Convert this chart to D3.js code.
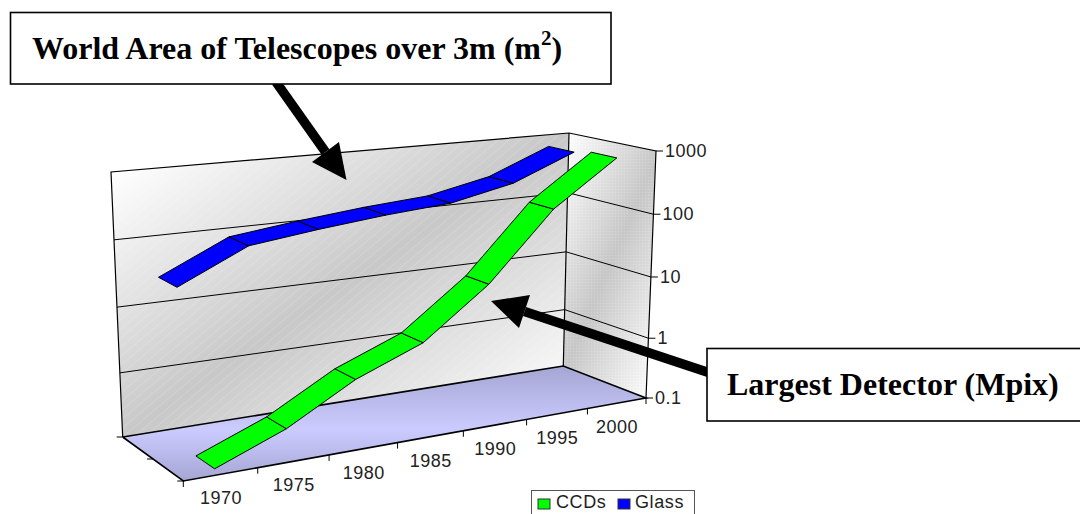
<!DOCTYPE html>
<html>
<head>
<meta charset="utf-8">
<script src="https://cdn.jsdelivr.net/npm/d3@7"></script>
<style>
  html, body { margin: 0; padding: 0; background: #fff; overflow: hidden; }
  svg { display: block; }
</style>
</head>
<body>
<svg id="chart" width="1080" height="514"></svg>
<script>
const years = ["1970", "1975", "1980", "1985", "1990", "1995", "2000"];
const seriesNames = ["CCDs", "Glass"];
const ccdValues = [0.104, 0.27, 1.03, 2.6, 15, 164, 813];
const glassValues = [27, 83, 112, 143, 171, 279, 708];
const valueTicks = [0.1, 1, 10, 100, 1000];
const seriesColors = ["#00ff00", "#0000ff"];

const svg = d3.select("#chart");

// corners of the 3d box as they land on the page
const frontLeft = [183.3, 481];
const frontRight = [646, 398];
const backLeft = [122.7, 437];
const backRight = [563.3, 366];
const frontLeftTop = [170, 200];
const frontRightTop = [656, 151];
const backLeftTop = [111, 172];
const backRightTop = [569, 133];

const xBand = d3.scaleBand().domain(years).range([0, 1]);
const depthBand = d3.scaleBand().domain(seriesNames).range([0, 1]).paddingInner(0.4).paddingOuter(0.2);
const yScale = d3.scaleLog().domain(valueTicks).range([0, 0.242, 0.49, 0.744, 1]);

const mix = (a, b, k) => [a[0] + (b[0] - a[0]) * k, a[1] + (b[1] - a[1]) * k];

// u along the years, v up the value axis, w from front to back
function project(u, v, w) {
  const t = (1.15 * u) / (1 + 0.15 * u);
  const bottom = mix(mix(frontLeft, frontRight, t), mix(backLeft, backRight, t), w);
  const top = mix(mix(frontLeftTop, frontRightTop, t), mix(backLeftTop, backRightTop, t), w);
  return mix(bottom, top, v);
}

const defs = svg.append("defs");

function addGradient(id, p1, p2, stops) {
  const g = defs
    .append("linearGradient")
    .attr("id", id)
    .attr("gradientUnits", "userSpaceOnUse")
    .attr("x1", p1[0])
    .attr("y1", p1[1])
    .attr("x2", p2[0])
    .attr("y2", p2[1]);
  stops.forEach(([o, c]) => g.append("stop").attr("offset", o).attr("stop-color", c));
}
addGradient("backWall", [218, 99], [472, 471], [[0, "#ffffff"], [0.5, "#c8c8c8"], [1, "#ffffff"]]);
addGradient("sideWall", [527, 229], [693, 301], [[0, "#ffffff"], [0.5, "#c8c8c8"], [1, "#ffffff"]]);
addGradient("floor", [400, 366], [400, 481], [[0, "#a6a6d4"], [0.55, "#cbcbff"], [1, "#a6a6d4"]]);

defs
  .append("pattern")
  .attr("id", "stripes")
  .attr("width", 7)
  .attr("height", 7)
  .attr("patternUnits", "userSpaceOnUse")
  .attr("patternTransform", "rotate(-40)")
  .append("rect")
  .attr("width", 7)
  .attr("height", 1)
  .attr("fill", "#fff")
  .attr("fill-opacity", 0.14);

const dots = defs
  .append("pattern")
  .attr("id", "dots")
  .attr("width", 3)
  .attr("height", 3)
  .attr("patternUnits", "userSpaceOnUse");
dots.append("rect").attr("width", 1).attr("height", 1).attr("fill", "#fff").attr("fill-opacity", 0.18);
dots.append("rect").attr("x", 1.5).attr("y", 1.5).attr("width", 1).attr("height", 1).attr("fill", "#888").attr("fill-opacity", 0.1);

const line = d3.line();
const box = svg.append("g");

function face(points, fill) {
  box.append("path").attr("d", line(points) + "Z").attr("fill", fill);
}
const stroke = (points, width) =>
  box
    .append("path")
    .attr("d", line(points))
    .attr("fill", "none")
    .attr("stroke", "#000")
    .attr("stroke-width", width);

const backFace = [backLeftTop, backRightTop, backRight, backLeft];
const sideFace = [backRightTop, frontRightTop, frontRight, backRight];
face([backLeft, backRight, frontRight, frontLeft], "url(#floor)");
face(backFace, "url(#backWall)");
face(backFace, "url(#stripes)");
face(sideFace, "url(#sideWall)");
face(sideFace, "url(#dots)");

// gridlines run along the back wall then forward along the side wall
valueTicks.slice(1, -1).forEach((d) => {
  const v = yScale(d);
  stroke([project(0, v, 1), project(1, v, 1), project(1, v, 0)], 1);
});

stroke([backLeft, backLeftTop, backRightTop, frontRightTop, frontRight], 1.2);
stroke([backRightTop, backRight], 1.2);
stroke([backLeft, backRight, frontRight, frontLeft, backLeft], 1.6);

// ticks on the year axis, between categories
d3.range(years.length + 1).forEach((i) => {
  const p = project(i / years.length, 0, 0);
  stroke([p, [p[0], p[1] + 6]], 1);
});
// ticks on the depth axis
[0, 0.5, 1].forEach((w) => {
  const p = project(0, 0, w);
  stroke([[p[0] - 6, p[1]], p], 1);
});
// ticks and labels on the value axis
valueTicks.forEach((d) => {
  const p = project(1, yScale(d), 0);
  stroke([p, [p[0] + 7, p[1]]], 1);
  svg
    .append("text")
    .attr("x", p[0] + 9)
    .attr("y", p[1] + 6)
    .attr("font-family", "Liberation Sans")
    .attr("font-size", 18)
    .attr("letter-spacing", 0.5)
    .attr("fill", "#222")
    .text(d);
});

years.forEach((y) => {
  const p = project(xBand(y) + xBand.bandwidth() / 2, 0, 0);
  svg
    .append("text")
    .attr("x", p[0])
    .attr("y", p[1] + 30)
    .attr("text-anchor", "middle")
    .attr("font-family", "Liberation Sans")
    .attr("font-size", 18)
    .attr("letter-spacing", 0.5)
    .attr("fill", "#222")
    .text(y);
});

// ribbons, back series first so the front one overlaps it
function ribbon(name, values, color) {
  const w0 = depthBand(name);
  const w1 = w0 + depthBand.bandwidth();
  const g = svg.append("g");
  d3.pairs(years.map((y, i) => [y, values[i]])).forEach(([a, b]) => {
    const ua = xBand(a[0]) + xBand.bandwidth() / 2;
    const ub = xBand(b[0]) + xBand.bandwidth() / 2;
    const pts = [
      project(ua, yScale(a[1]), w1),
      project(ub, yScale(b[1]), w1),
      project(ub, yScale(b[1]), w0),
      project(ua, yScale(a[1]), w0),
    ];
    g.append("path")
      .attr("d", line(pts) + "Z")
      .attr("fill", color)
      .attr("stroke", "#000")
      .attr("stroke-width", 1)
      .attr("stroke-linejoin", "round");
  });
}
ribbon("Glass", glassValues, seriesColors[1]);
ribbon("CCDs", ccdValues, seriesColors[0]);

// legend
const legend = svg.append("g");
legend
  .append("rect")
  .attr("x", 531.5)
  .attr("y", 490.5)
  .attr("width", 163)
  .attr("height", 40)
  .attr("fill", "#fff")
  .attr("stroke", "#555");
[[538, 556], [618, 635]].forEach(([sx, tx], i) => {
  legend
    .append("rect")
    .attr("x", sx)
    .attr("y", 499)
    .attr("width", 12)
    .attr("height", 10)
    .attr("fill", seriesColors[i])
    .attr("stroke", "#333");
  legend
    .append("text")
    .attr("x", tx)
    .attr("y", 508)
    .attr("font-family", "Liberation Sans")
    .attr("font-size", 18)
    .attr("letter-spacing", 0.6)
    .attr("fill", "#222")
    .text(seriesNames[i]);
});

// callouts
function arrow(from, to, wingA, wingB) {
  svg
    .append("line")
    .attr("x1", from[0])
    .attr("y1", from[1])
    .attr("x2", (wingA[0] + wingB[0]) / 2)
    .attr("y2", (wingA[1] + wingB[1]) / 2)
    .attr("stroke", "#000")
    .attr("stroke-width", 9.5);
  svg.append("path").attr("d", line([to, wingA, wingB]) + "Z").attr("fill", "#000");
}
arrow([276, 82], [346.5, 180], [312, 162], [339, 142]);
arrow([710, 373], [491, 301], [530, 295], [519, 328]);

function calloutBox(x, y, w, h) {
  svg
    .append("rect")
    .attr("x", x)
    .attr("y", y)
    .attr("width", w)
    .attr("height", h)
    .attr("fill", "#fff")
    .attr("stroke", "#000")
    .attr("stroke-width", 1.6);
}
const serifBold = (sel) =>
  sel
    .attr("font-family", "Liberation Serif")
    .attr("font-weight", "bold")
    .attr("font-size", 32)
    .attr("fill", "#000");

calloutBox(10.5, 12.5, 600.5, 71.5);
const title = svg.append("text").attr("x", 32).attr("y", 59).call(serifBold);
title.append("tspan").text("World Area of Telescopes over 3m (m");
title.append("tspan").attr("dy", -14).attr("font-size", 21).text("2");
title.append("tspan").attr("dy", 14).text(")");

calloutBox(707, 348.5, 400, 72.5);
svg.append("text").attr("x", 727).attr("y", 395).call(serifBold).text("Largest Detector (Mpix)");
</script>
</body>
</html>
